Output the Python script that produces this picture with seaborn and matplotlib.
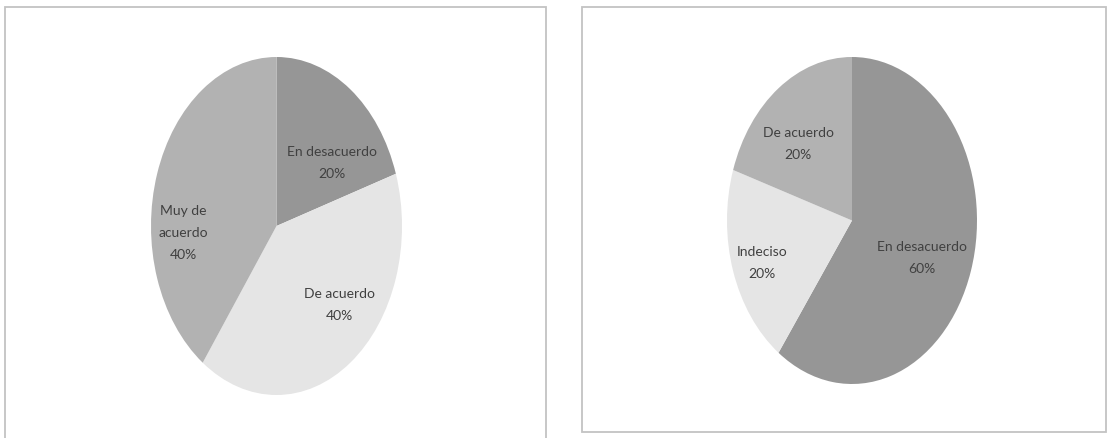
import matplotlib
matplotlib.use("Agg")
import matplotlib.pyplot as plt
from matplotlib.patches import Rectangle
import seaborn as sns

# Data
left_labels = ["En desacuerdo", "De acuerdo", "Muy de\nacuerdo"]
left_values = [20, 40, 40]
right_labels = ["En desacuerdo", "Indeciso", "De acuerdo"]
right_values = [60, 20, 20]

sns.set_theme(style="white")
plt.rcParams["font.family"] = ["Lato", "DejaVu Sans"]

dark, mid, light = "#969696", "#b2b2b2", "#e5e5e5"
left_colors = [dark, light, mid]
right_colors = [dark, light, mid]
text_color = "#404040"

fig = plt.figure(figsize=(11.12, 4.38), dpi=100)
W, H = 1112, 438

def px_box(x0, y0, x1, y1):
    return [x0 / W, 1 - y1 / H, (x1 - x0) / W, (y1 - y0) / H]

# panel frames
for x0, y0, x1, y1 in [(5, 7, 546, 445), (582, 7, 1106, 432)]:
    fig.patches.append(Rectangle((x0 / W, 1 - y1 / H), (x1 - x0) / W, (y1 - y0) / H,
                                 transform=fig.transFigure, fill=False,
                                 edgecolor="#c3c3c3", linewidth=1.3))

def draw_pie(box, values, labels, colors, label_pos):
    ax = fig.add_axes(box)
    ax.pie(values, colors=colors, startangle=90, counterclock=False,
           radius=1, wedgeprops=dict(linewidth=0))
    ax.set_aspect("auto")
    ax.set_xlim(-1, 1)
    ax.set_ylim(-1, 1)
    ax.axis("off")
    for lab, v, (x, y) in zip(labels, values, label_pos):
        ax.text(x, y, f"{lab}\n{v}%", ha="center", va="center",
                fontsize=10, color=text_color, linespacing=2.0)
    return ax

draw_pie(px_box(151, 57, 402, 395), left_values, left_labels, left_colors,
         [(0.44, 0.37), (0.50, -0.47), (-0.74, -0.04)])
draw_pie(px_box(727, 57, 977, 384), right_values, right_labels, right_colors,
         [(0.56, -0.23), (-0.72, -0.26), (-0.43, 0.47)])

fig.savefig("out.png", dpi=100, facecolor="white")
